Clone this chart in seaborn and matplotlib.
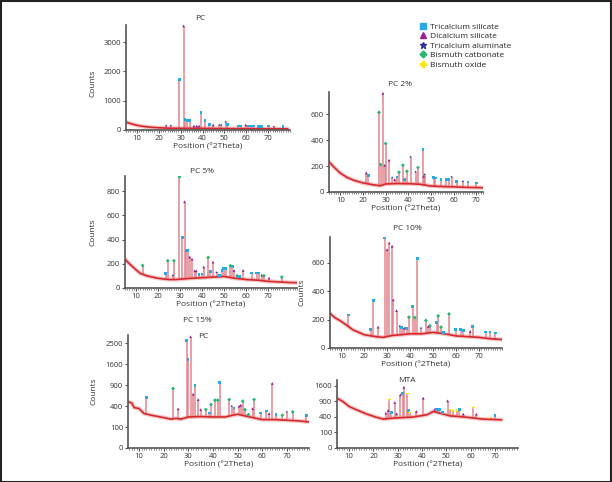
import numpy as np
import pandas as pd
import matplotlib
matplotlib.use("Agg")
import matplotlib.pyplot as plt
from matplotlib.ticker import MultipleLocator
from matplotlib.lines import Line2D
from matplotlib.patches import Rectangle
import seaborn as sns

sns.set_style("ticks")
plt.rcParams["font.family"] = ["Open Sans", "DejaVu Sans"]

# ---- data ----
# PC
bg1_x = [5, 7, 10, 13, 16, 20, 25, 30, 40, 50, 60, 70, 79]
bg1_y = [270, 220, 160, 120, 95, 75, 62, 58, 55, 50, 45, 42, 40]
pk1_x = [23.4, 25.5, 29.4, 31.3, 32.0, 33.1, 34.3, 36.1, 37.3, 38.4, 39.3, 41.1, 43.1, 44.9, 47.7,
         48.6, 50.6, 51.3, 56.3, 57.5, 59.7, 60.9, 62.1, 63.2, 65.5, 67.0, 70.3, 72.7, 76.8]
pk1_y = [150, 150, 1730, 3550, 360, 320, 320, 135, 135, 135, 590, 320, 200, 170, 170,
         170, 280, 200, 135, 135, 170, 135, 135, 135, 130, 130, 140, 110, 110]
pk1_ph = list("aasdsssdddsssdaaasssdssssssas")

# PC 2%
bg2_x = [5, 7, 10, 13, 16, 20, 24, 27.5, 30, 35, 40, 45, 50, 55, 60, 65, 73]
bg2_y = [232, 195, 145, 112, 90, 70, 57, 48, 62, 65, 64, 60, 46, 42, 40, 36, 33]
pk2_x = [21.5, 22.3, 27.1, 27.8, 28.8, 29.6, 30.0, 31.5, 32.9, 34.0, 35.0, 35.9, 37.6, 38.5, 39.4,
         41.0, 43.2, 44.3, 46.5, 46.8, 47.2, 51.2, 51.9, 54.5, 56.7, 57.8, 59.2, 61.4, 64.1, 66.4, 70.0]
pk2_y = [147, 129, 613, 211, 760, 206, 373, 245, 111, 95, 116, 152, 206, 98, 160,
         270, 155, 188, 327, 121, 136, 111, 108, 95, 95, 98, 116, 82, 82, 77, 70]
pk2_ph = list("dsbbddbdadsbbsbaabsdasssssasass")

# PC 5%
bg3_x = [5, 7, 10, 12, 15, 20, 25, 28, 35, 40, 45, 50, 55, 60, 65, 70, 75, 80, 83]
bg3_y = [238, 200, 150, 120, 100, 80, 70, 70, 80, 85, 90, 95, 80, 70, 65, 55, 50, 45, 44]
pk3_x = [13.0, 23.4, 24.4, 26.7, 27.2, 29.7, 31.0, 32.0, 32.8, 33.5, 34.3, 35.4, 36.6, 37.3, 38.6,
         39.9, 40.7, 42.7, 43.7, 44.9, 46.5, 48.0, 49.0, 49.8, 50.6, 52.8, 53.7, 54.4, 55.9, 56.8,
         58.6, 62.4, 64.7, 65.7, 67.0, 68.0, 70.3, 76.1]
pk3_y = [186, 118, 225, 104, 225, 918, 419, 712, 307, 307, 255, 238, 142, 142, 110,
         115, 173, 252, 134, 214, 129, 101, 145, 159, 164, 184, 178, 145, 101, 96,
         145, 123, 123, 123, 107, 101, 82, 90]
pk3_ph = list("bsbabbsdssddddssdbsdassssbsdbsdsssdbdb")

# PC 10%
bg4_x = [5, 7, 10, 15, 20, 25, 28, 32, 35, 40, 45, 50, 55, 60, 65, 70, 75, 80]
bg4_y = [245, 215, 187, 128, 93, 80, 75, 88, 92, 100, 100, 110, 100, 85, 80, 75, 65, 60]
pk4_x = [12.9, 22.8, 23.8, 26.0, 28.9, 29.9, 30.8, 32.1, 32.6, 34.0, 35.5, 36.2, 37.4, 38.4, 39.4,
         41.0, 42.0, 43.1, 44.7, 46.8, 47.9, 48.6, 51.5, 52.2, 53.4, 54.4, 56.9, 59.8, 62.0, 63.1,
         66.1, 67.2, 72.9, 74.8, 77.0]
pk4_y = [233, 133, 334, 147, 778, 693, 740, 717, 339, 264, 156, 147, 140, 140, 217,
         292, 215, 630, 140, 194, 152, 156, 180, 226, 147, 110, 240, 128, 133, 124,
         117, 152, 112, 112, 105]
pk4_ph = list("sssdsddddddsdsbsbsabdbsbbsbsssdssss")

# PC 15%
bg5_x = [5.5, 7, 8, 10, 12, 15, 20, 23, 25, 27, 30, 35, 40, 45, 48, 50, 55, 60, 65, 70, 75, 79]
bg5_y = [486, 465, 373, 355, 271, 245, 211, 190, 200, 190, 220, 225, 220, 220, 245, 260, 220, 184,
         184, 176, 167, 155]
pk5_x = [13.0, 23.8, 25.9, 29.3, 29.9, 30.9, 32.0, 32.7, 34.0, 35.0, 37.1, 38.5, 39.2, 40.8, 41.9,
         42.8, 46.6, 47.6, 48.5, 50.6, 51.3, 52.1, 53.0, 54.4, 56.1, 56.7, 59.4, 61.6, 62.8, 64.1,
         65.6, 68.2, 70.0, 72.4, 77.9]
pk5_y = [574, 808, 349, 2650, 1790, 2830, 660, 883, 536, 337, 337, 281, 431, 521, 521,
         980, 536, 399, 367, 399, 418, 500, 337, 255, 355, 536, 281, 314, 270, 950,
         260, 245, 298, 298, 245]
pk5_ph = list("sbdssddsddbsbbbsbasddbbbdbssddsbabs")

# MTA
bg6_x = [5, 7.5, 10, 13, 17, 21, 24, 28, 36, 42, 44.6, 47.3, 51.5, 58, 65, 72.7]
bg6_y = [1018, 885, 707, 600, 480, 392, 343, 367, 392, 453, 549, 499, 425, 392, 343, 327]
pk6_x = [25.1, 26.1, 26.5, 27.4, 28.8, 29.5, 31.1, 32.0, 32.5, 33.9, 34.3, 35.0, 37.7, 40.5,
         45.3, 46.0, 47.1, 48.4, 50.5, 51.5, 52.6, 54.2, 55.3, 57.0, 61.1, 62.4, 68.4, 70.0]
pk6_y = [499, 578, 978, 518, 850, 480, 1159, 1233, 1516, 1203, 578, 518, 548, 1018,
         620, 599, 599, 518, 913, 599, 578, 568, 599, 471, 674, 471, 392, 426]
pk6_ph = list("ddosdddsdosodddsssdooosdodos")

phase_names = {"s": "Tricalcium silicate", "d": "Dicalcium silicate", "a": "Tricalcium aluminate",
               "b": "Bismuth catbonate", "o": "Bismuth oxide"}
phase_colors = {"s": "#29abe2", "d": "#92278f", "a": "#2e3192", "b": "#2bb673", "o": "#f7e61c"}
phase_markers = {"s": "s", "d": "^", "a": "*", "b": "D", "o": "P"}

W, H = 612, 482
fig = plt.figure(figsize=(W / 100, H / 100), dpi=100)


def panel(left, top, right, bottom):
    return fig.add_axes([left / W, 1 - bottom / H, (right - left) / W, (bottom - top) / H])


def draw(ax, bg_x, bg_y, pk_x, pk_y, pk_ph, xlim, ylim, yticks, sqrt=False):
    if sqrt:
        ax.set_yscale("function", functions=(lambda v: np.sqrt(np.clip(v, 0, None)),
                                             lambda v: np.square(v)))
    ax.vlines(pk_x, 0, pk_y, color="#efb4bc", lw=1.3, zorder=2)
    ax.vlines(pk_x, 0, pk_y, color="#d4505e", lw=0.35, zorder=2)
    ax.fill_between(bg_x, 0, bg_y, color="white", lw=0, zorder=2.1)
    sns.lineplot(x=bg_x, y=bg_y, ax=ax, color="#ef8c8c", lw=3.0, alpha=0.5, zorder=2.2)
    sns.lineplot(x=bg_x, y=bg_y, ax=ax, color="#d42a2f", lw=1.2, zorder=2.3)
    df = pd.DataFrame({"x": pk_x, "y": pk_y, "phase": pk_ph})
    sns.scatterplot(data=df, x="x", y="y", hue="phase", style="phase", palette=phase_colors,
                    markers=phase_markers, s=4, linewidth=0, legend=False, ax=ax, zorder=3)
    ax.set_xlim(*xlim)
    ax.set_ylim(*ylim)
    ax.set_yticks(yticks)
    ax.set_xticks([10, 20, 30, 40, 50, 60, 70])
    ax.xaxis.set_minor_locator(MultipleLocator(1))
    sns.despine(ax=ax)
    for s in ["left", "bottom"]:
        ax.spines[s].set_color("#555555")
        ax.spines[s].set_linewidth(1.2)
    ax.tick_params(which="major", labelsize=5.5, length=2.5, width=0.8, color="#555555",
                   labelcolor="#333333", pad=1)
    ax.tick_params(axis="x", which="minor", length=1.5, width=0.5, color="#555555")
    ax.set_xlabel("Position (°2Theta)", fontsize=6, color="#333333", labelpad=1)
    ax.set_ylabel("")


def label(x, y, s, size=6):
    fig.text(x / W, 1 - y / H, s, fontsize=size, color="#333333", ha="center", va="center")


ax1 = panel(126, 25, 290, 130)
draw(ax1, bg1_x, bg1_y, pk1_x, pk1_y, pk1_ph, (5, 80), (0, 3580), [0, 1000, 2000, 3000])
ax2 = panel(329, 92, 483, 192)
draw(ax2, bg2_x, bg2_y, pk2_x, pk2_y, pk2_ph, (5, 73), (0, 770), [0, 200, 400, 600])
ax3 = panel(125, 176, 297, 288)
draw(ax3, bg3_x, bg3_y, pk3_x, pk3_y, pk3_ph, (5, 83), (0, 925), [0, 200, 400, 600, 800])
ax4 = panel(330, 237, 502, 348)
draw(ax4, bg4_x, bg4_y, pk4_x, pk4_y, pk4_ph, (5, 80), (0, 782), [0, 200, 400, 600])
ax5 = panel(128, 335, 309, 448)
draw(ax5, bg5_x, bg5_y, pk5_x, pk5_y, pk5_ph, (5.5, 79), (0, 2915),
     [0, 100, 400, 900, 1600, 2500], sqrt=True)
ax6 = panel(337, 380, 518, 448)
draw(ax6, bg6_x, bg6_y, pk6_x, pk6_y, pk6_ph, (5, 79.5), (0, 1900),
     [0, 100, 400, 900, 1600], sqrt=True)

for ax in [ax1, ax3, ax4, ax5]:
    ax.set_ylabel("Counts", fontsize=6, color="#333333")
ax1.yaxis.set_label_coords(-0.177, 0.45)
ax3.yaxis.set_label_coords(-0.163, 0.5)
ax4.yaxis.set_label_coords(-0.145, 0.5)
ax5.yaxis.set_label_coords(-0.166, 0.5)

label(200, 18, "PC")
label(400, 85, "PC 2%")
label(202, 171, "PC 5%")
label(407, 229, "PC 10%")
label(197, 320, "PC 15%")
label(203, 336, "PC")
label(407, 381, "MTA")

handles = [Line2D([], [], ls="", marker="s", ms=5, color=phase_colors["s"]),
           Line2D([], [], ls="", marker="^", ms=4.5, color=phase_colors["d"]),
           Line2D([], [], ls="", marker="*", ms=4.5, color=phase_colors["a"]),
           Line2D([], [], ls="", marker="D", ms=3.5, color=phase_colors["b"]),
           Line2D([], [], ls="", marker="P", ms=5, color=phase_colors["o"])]
fig.legend(handles, [phase_names[k] for k in "sdabo"], loc="upper left",
           bbox_to_anchor=(420 / W, 1 - 23 / H), frameon=False, fontsize=6, handlelength=0.8,
           handletextpad=0.4, labelspacing=0.2, borderaxespad=0, borderpad=0)

fig.add_artist(Rectangle((0.001, 0.001), 0.998, 0.997, transform=fig.transFigure, fill=False,
                         ec="#222222", lw=1.5))

fig.savefig("out.png", dpi=100)
